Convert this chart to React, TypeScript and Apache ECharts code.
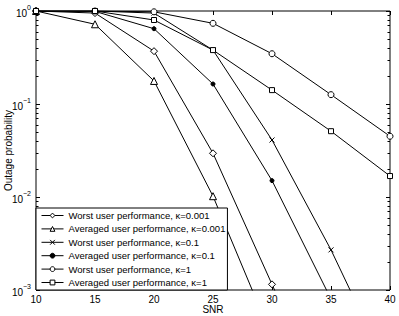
import React, { useEffect, useRef } from 'react';
import * as echarts from 'echarts';

const snr = [10, 15, 20, 25, 30, 35, 40];
const worstK0001 = [1, 0.95, 0.37, 0.0295, 0.00115, 0.000045, null];
const avgK0001 = [1, 0.72, 0.177, 0.0102, 0.00031, null, null];
const worstK01 = [1, 1, 0.95, 0.38, 0.041, 0.0027, 0.000125];
const avgK01 = [1, 0.99, 0.645, 0.164, 0.015, 0.0008, null];
const worstK1 = [1, 1, 0.98, 0.737, 0.347, 0.126, 0.045];
const avgK1 = [1, 1, 0.8, 0.38, 0.141, 0.051, 0.0168];

const seriesNames = [
  'Worst user performance, κ=0.001',
  'Averaged user performance, κ=0.001',
  'Worst user performance, κ=0.1',
  'Averaged user performance, κ=0.1',
  'Worst user performance, κ=1',
  'Averaged user performance, κ=1',
];
const yMinorTicks = [
  0.002, 0.003, 0.004, 0.005, 0.006, 0.007, 0.008, 0.009,
  0.02, 0.03, 0.04, 0.05, 0.06, 0.07, 0.08, 0.09,
  0.2, 0.3, 0.4, 0.5, 0.6, 0.7, 0.8, 0.9,
];

const FONT = "'Liberation Sans', Arial, Helvetica, sans-serif";

export default function App() {
  const ref = useRef<HTMLDivElement>(null);
  useEffect(() => {
    const chart = echarts.init(ref.current!, null, { renderer: 'svg' });
    const mk = (
      name: string,
      values: (number | null)[],
      symbol: string,
      size: number,
      fill: string
    ) => ({
      name,
      type: 'line',
      data: snr.map((x, i) => [x, values[i]]),
      symbol,
      symbolSize: size,
      showSymbol: true,
      lineStyle: { color: '#000', width: 1 },
      itemStyle: { color: fill, borderColor: '#000', borderWidth: 1 },
      clip: true,
      z: 3,
    });
    const xMark = 'path://M0 0L10 10M10 0L0 10';
    chart.setOption({
      animation: false,
      textStyle: { fontFamily: FONT },
      grid: {
        left: 36,
        right: 9,
        top: 11,
        bottom: 26,
        containLabel: false,
        outerBoundsMode: 'none',
        show: true,
        borderColor: '#000',
        borderWidth: 1,
        backgroundColor: '#fff',
      },
      xAxis: [
        {
          type: 'value',
          min: 10,
          max: 40,
          interval: 5,
          name: 'SNR',
          nameLocation: 'middle',
          nameGap: 14,
          nameMoveOverlap: false,
          nameTextStyle: { fontSize: 10, color: '#000', fontFamily: FONT },
          axisLine: { show: false },
          axisTick: { show: true, inside: true, length: 4, lineStyle: { color: '#000' } },
          axisLabel: { fontSize: 10, color: '#000', margin: 4, fontFamily: FONT },
          splitLine: { show: false },
        },
        {
          type: 'value',
          min: 10,
          max: 40,
          interval: 5,
          position: 'top',
          axisLine: { show: false },
          axisTick: { show: true, inside: true, length: 4, lineStyle: { color: '#000' } },
          axisLabel: { show: false },
          splitLine: { show: false },
        },
      ],
      yAxis: [
        {
          type: 'log',
          logBase: 10,
          min: 0.001,
          max: 1,
          splitNumber: 3,
          name: 'Outage probability',
          nameLocation: 'middle',
          nameGap: 23,
          nameMoveOverlap: false,
          nameTextStyle: { fontSize: 10, color: '#000', fontFamily: FONT },
          axisLine: { show: false },
          axisTick: { show: true, inside: true, length: 4, lineStyle: { color: '#000' } },
          axisLabel: {
            margin: 5,
            color: '#000',
            formatter: (v: number) => {
              const e = Math.round(Math.log10(v));
              return '{b|10}{s|' + (e < 0 ? '\u2212' + -e : String(e)) + '}';
            },
            rich: {
              b: { fontSize: 10, lineHeight: 14, verticalAlign: 'bottom', color: '#000', fontFamily: FONT },
              s: { fontSize: 7, lineHeight: 8, verticalAlign: 'top', color: '#000', fontFamily: FONT },
            },
          },
          splitLine: { show: false },
        },
        {
          type: 'log',
          logBase: 10,
          min: 0.001,
          max: 1,
          splitNumber: 3,
          position: 'right',
          axisLine: { show: false },
          axisTick: { show: true, inside: true, length: 4, lineStyle: { color: '#000' } },
          axisLabel: { show: false },
          splitLine: { show: false },
        },
      ],
      legend: {
        data: seriesNames,
        orient: 'vertical',
        left: 36,
        top: 208,
        itemWidth: 22,
        itemHeight: 6,
        itemGap: 2.4,
        padding: [2, 2, 2, 5],
        backgroundColor: '#fff',
        borderColor: '#000',
        borderWidth: 1,
        borderRadius: 0,
        lineStyle: { width: 1, color: '#000' },
        itemStyle: { borderWidth: 1 },
        textStyle: { fontSize: 9.5, lineHeight: 11, color: '#000', fontFamily: FONT },
        z: 10,
      },
      series: [
        mk(seriesNames[0], worstK0001, 'diamond', 7, '#fff'),
        mk(seriesNames[1], avgK0001, 'triangle', 7, '#fff'),
        mk(seriesNames[2], worstK01, xMark, 5, '#000'),
        mk(seriesNames[3], avgK01, 'circle', 4, '#000'),
        mk(seriesNames[4], worstK1, 'circle', 6, '#fff'),
        mk(seriesNames[5], avgK1, 'rect', 5, '#fff'),
        {
          type: 'custom',
          silent: true,
          clip: false,
          data: yMinorTicks.map((v) => [10, v]),
          renderItem: (params: any, api: any) => {
            const pt = api.coord([api.value(0), api.value(1)]);
            const cs = params.coordSys;
            const y = Math.round(pt[1]) + 0.5;
            return {
              type: 'group',
              children: [
                { type: 'line', shape: { x1: cs.x, y1: y, x2: cs.x + 2.5, y2: y }, style: { stroke: '#000', lineWidth: 1 } },
                { type: 'line', shape: { x1: cs.x + cs.width - 2.5, y1: y, x2: cs.x + cs.width, y2: y }, style: { stroke: '#000', lineWidth: 1 } },
              ],
            };
          },
          z: 2,
        },
      ],
    });
    return () => chart.dispose();
  }, []);
  return (
    <div
      ref={ref}
      style={{ position: 'fixed', left: 0, top: 0, width: 399, height: 316, background: '#fff' }}
    />
  );
}
